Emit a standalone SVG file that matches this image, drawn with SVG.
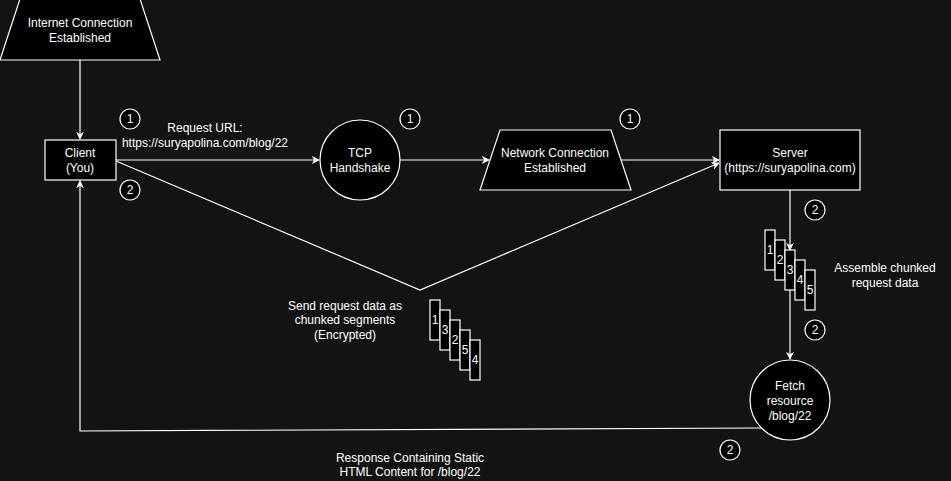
<svg xmlns="http://www.w3.org/2000/svg" width="951" height="481" viewBox="0 0 951 481">
<defs>
<marker id="arr" viewBox="0 0 10 10" refX="9" refY="5" markerWidth="8" markerHeight="8" markerUnits="userSpaceOnUse" orient="auto">
<path d="M0,0 L10,5 L0,10 L3,5 Z" fill="#ffffff"/>
</marker>
<style>
text{font-family:"Liberation Sans",Arial,Helvetica,sans-serif;font-size:12px;fill:#ffffff;text-anchor:middle}
.shape{fill:#000000;stroke:#ffffff;stroke-width:1.2}
.line{fill:none;stroke:#ffffff;stroke-width:1.2}
.badge{fill:#000000;stroke:#ffffff;stroke-width:1.2}
.chunk{fill:#000000;stroke:#ffffff;stroke-width:1.2}
</style>
</defs>
<rect width="951" height="481" fill="#131313"/>
<g id="connectors">
<path class="line" d="M80,60 L80,139" marker-end="url(#arr)"/>
<path class="line" d="M116,160 L319,160" marker-end="url(#arr)"/>
<path class="line" d="M400,160 L489,160" marker-end="url(#arr)"/>
<path class="line" d="M621,160 L719,160" marker-end="url(#arr)"/>
<path class="line" d="M116,161 L420,290 L719,163" marker-end="url(#arr)"/>
<path class="line" d="M790,190 L790,250" marker-end="url(#arr)"/>
<path class="line" d="M790,290 L790,359" marker-end="url(#arr)"/>
<path class="line" d="M761,428 L80,431 L80,181" marker-end="url(#arr)"/>
</g>
<g id="internet">
<polygon class="shape" points="20,-1 140,-1 160,60 0,60"/>
<text x="80" y="27">Internet Connection</text>
<text x="80" y="42">Established</text>
</g>
<g id="client">
<rect class="shape" x="45" y="140" width="71" height="40"/>
<text x="80" y="157">Client</text>
<text x="80" y="172">(You)</text>
</g>
<g id="tcp">
<circle class="shape" cx="360" cy="160" r="40"/>
<text x="360" y="157">TCP</text>
<text x="360" y="172">Handshake</text>
</g>
<g id="network">
<polygon class="shape" points="500,130 611,130 631,190 480,190"/>
<text x="555" y="157">Network Connection</text>
<text x="555" y="172">Established</text>
</g>
<g id="server">
<rect class="shape" x="720" y="130" width="140" height="60"/>
<text x="790" y="157">Server</text>
<text x="790" y="172">(https://suryapolina.com)</text>
</g>
<g id="fetch">
<circle class="shape" cx="790" cy="400" r="40"/>
<text x="790" y="390">Fetch</text>
<text x="790" y="405">resource</text>
<text x="790" y="420">/blog/22</text>
</g>
<g id="labels">
<text x="205" y="132">Request URL:</text>
<text x="205" y="147">https://suryapolina.com/blog/22</text>
<text x="345" y="310">Send request data as</text>
<text x="345" y="324">chunked segments</text>
<text x="345" y="339">(Encrypted)</text>
<text x="885" y="272">Assemble chunked</text>
<text x="885" y="287">request data</text>
<text x="410" y="462">Response Containing Static</text>
<text x="410" y="476">HTML Content for /blog/22</text>
</g>
<g id="badges">
<circle class="badge" cx="130" cy="119" r="10"/><text x="130" y="123">1</text>
<circle class="badge" cx="130" cy="190" r="10"/><text x="130" y="194">2</text>
<circle class="badge" cx="410" cy="119" r="10"/><text x="410" y="123">1</text>
<circle class="badge" cx="630" cy="119" r="10"/><text x="630" y="123">1</text>
<circle class="badge" cx="815" cy="210" r="10"/><text x="815" y="214">2</text>
<circle class="badge" cx="815" cy="330" r="10"/><text x="815" y="334">2</text>
<circle class="badge" cx="730" cy="450" r="10"/><text x="730" y="454">2</text>
</g>
<g id="server-chunks">
<rect class="chunk" x="765" y="230" width="10" height="40"/><text x="770" y="254">1</text>
<rect class="chunk" x="775" y="240" width="10" height="40"/><text x="780" y="264">2</text>
<rect class="chunk" x="785" y="250" width="10" height="40"/><text x="790" y="274">3</text>
<rect class="chunk" x="795" y="260" width="10" height="40"/><text x="800" y="284">4</text>
<rect class="chunk" x="805" y="270" width="10" height="40"/><text x="810" y="294">5</text>
</g>
<g id="client-chunks">
<rect class="chunk" x="430" y="300" width="10" height="40"/><text x="435" y="324">1</text>
<rect class="chunk" x="440" y="310" width="10" height="40"/><text x="445" y="334">3</text>
<rect class="chunk" x="450" y="320" width="10" height="40"/><text x="455" y="344">2</text>
<rect class="chunk" x="460" y="330" width="10" height="40"/><text x="465" y="354">5</text>
<rect class="chunk" x="470" y="340" width="10" height="40"/><text x="475" y="364">4</text>
</g>
</svg>
